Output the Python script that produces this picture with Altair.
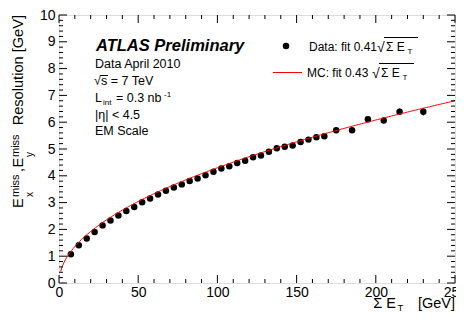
import altair as alt
import pandas as pd
import numpy as np

F = "Liberation Sans"

# ---- data ----
sumet = [7.5, 12.5, 17.5, 22.5, 27.5, 32.5, 37.5, 42.5, 47.5, 52.5, 57.5, 62.5,
         67.5, 72.5, 77.5, 82.5, 87.5, 92.5, 97.5, 102.5, 107.5, 112.5, 117.5,
         122.5, 127.5, 132.5, 137.5, 142.5, 147.5, 152.5, 157.5, 162.5, 167.5,
         175, 185, 195, 205, 215, 230]
resol = [1.07, 1.41, 1.66, 1.90, 2.15, 2.33, 2.52, 2.69, 2.84, 3.01, 3.15, 3.30,
         3.44, 3.56, 3.68, 3.81, 3.90, 4.02, 4.15, 4.27, 4.36, 4.48, 4.56,
         4.69, 4.76, 4.90, 5.03, 5.08, 5.13, 5.26, 5.35, 5.44, 5.48,
         5.70, 5.70, 6.11, 6.06, 6.39, 6.39]
resol_err = [0.02] * 30 + [0.03, 0.03, 0.04, 0.07, 0.08, 0.09, 0.10, 0.12, 0.14]
mc_fit_coef = 0.43

x_major = [0, 50, 100, 150, 200, 250]
x_minor = [v for v in range(0, 251, 10) if v % 50 != 0]
y_major = list(range(0, 11))
y_minor = [round(v * 0.2, 1) for v in range(0, 51) if v % 5 != 0]

W, H = 396, 268
xs = alt.Scale(domain=[0, 250], nice=False, zero=False)
ys = alt.Scale(domain=[0, 10], nice=False, zero=False)

df = pd.DataFrame({"x": sumet, "y": resol,
                   "lo": np.array(resol) - np.array(resol_err),
                   "hi": np.array(resol) + np.array(resol_err)})

base = alt.Chart(df)

xaxis = alt.Axis(values=x_major, ticks=False, domain=False, grid=False, title=None,
                 labelFont=F, labelFontSize=14, labelColor="black", labelPadding=2,
                 labelFlush=False, labelOverlap=False)
yaxis = alt.Axis(values=y_major, ticks=False, domain=False, grid=False, title=None,
                 labelFont=F, labelFontSize=14, labelColor="black", labelPadding=4,
                 labelFlush=False, labelOverlap=False)

pts = base.mark_point(filled=True, color="black", opacity=1, size=42, shape="circle").encode(
    x=alt.X("x:Q", scale=xs, axis=xaxis),
    y=alt.Y("y:Q", scale=ys, axis=yaxis),
)
err = base.mark_rule(color="black", strokeWidth=1).encode(
    x=alt.X("x:Q", scale=xs, axis=xaxis),
    y=alt.Y("lo:Q", scale=ys, axis=yaxis),
    y2="hi:Q",
)

fit = alt.Chart(alt.sequence(1, 250.5, 1, as_="x")).transform_calculate(
    y=f"{mc_fit_coef}*sqrt(datum.x)"
).mark_line(color="#ff0000", strokeWidth=1).encode(
    x=alt.X("x:Q", scale=xs, axis=xaxis),
    y=alt.Y("y:Q", scale=ys, axis=yaxis),
)

def tick_layer(vals, axis, length):
    d = pd.DataFrame({"v": vals})
    c = alt.Chart(d).mark_rule(color="black", strokeWidth=1)
    if axis == "x":
        return [c.encode(x=alt.X("v:Q", scale=xs, axis=xaxis),
                         y=alt.value(H), y2=alt.value(H - length)),
                c.encode(x=alt.X("v:Q", scale=xs, axis=xaxis),
                         y=alt.value(0), y2=alt.value(length))]
    return [c.encode(y=alt.Y("v:Q", scale=ys, axis=yaxis),
                     x=alt.value(0), x2=alt.value(length)),
            c.encode(y=alt.Y("v:Q", scale=ys, axis=yaxis),
                     x=alt.value(W), x2=alt.value(W - length))]

ticks = (tick_layer(x_major, "x", 8) + tick_layer(x_minor, "x", 4)
         + tick_layer(y_major, "y", 8) + tick_layer(y_minor, "y", 4))

one = alt.Data(values=[{"a": 1}])

def txt(s, x, y, size=12, align="left", angle=0, **kw):
    return alt.Chart(one).mark_text(text=s, font=F, fontSize=size, align=align,
                                    baseline="alphabetic", angle=angle, color="black",
                                    **kw).encode(x=alt.value(x), y=alt.value(y))

def hline(x1, x2, y, color="black", w=1):
    return alt.Chart(one).mark_rule(color=color, strokeWidth=w).encode(
        x=alt.value(x1), x2=alt.value(x2), y=alt.value(y))

ann = [
    txt("ATLAS Preliminary", 37, 36, 16.5, fontWeight="bold", fontStyle="italic"),
    txt("Data April 2010", 36, 53, 12.5),
    txt("√", 35, 70, 12.5),
    txt("s = 7 TeV", 42, 70, 12.5),
    hline(41, 49, 60.5),
    txt("L", 36, 87, 12.5),
    txt("int", 44, 90, 8),
    txt("= 0.3 nb", 57, 87, 12.5),
    txt("-1", 105, 81.5, 8),
    txt("|η| < 4.5", 36, 103.5, 12.5),
    txt("EM Scale", 36, 120, 12.5),
    # legend
    alt.Chart(one).mark_point(filled=True, color="black", opacity=1, size=42, shape="circle").encode(
        x=alt.value(227), y=alt.value(31)),
    txt("Data: fit 0.41", 250, 36, 12),
    txt("√", 318, 37, 14),
    hline(325, 359, 22.5),
    txt("Σ E", 327, 36, 12),
    txt("T", 348.5, 39, 8),
    hline(214, 243, 57.5, color="#ff0000"),
    txt("MC: fit 0.43", 248, 62, 12),
    txt("√", 313, 63, 14),
    hline(320, 355, 48.5),
    txt("Σ E", 322, 62, 12),
    txt("T", 343.5, 65, 8),
    # x title
    txt("Σ E", 337, 293, 14.5, align="right"),
    txt("T", 338.5, 295.5, 9.5),
    txt("[GeV]", 396, 293, 14.5, align="right"),
    # y title (rotated)
    txt("E", -36, 193, 14.6, angle=270),
    txt("x", -26, 182, 10, angle=270),
    txt("miss", -40, 182, 11, angle=270),
    txt(",", -36, 157, 14.6, angle=270),
    txt("E", -36, 152.5, 14.6, angle=270),
    txt("y", -26, 142, 10, angle=270),
    txt("miss", -40, 142, 11, angle=270),
    txt("Resolution [GeV]", -36, 0, 14.6, align="right", angle=270),
]

chart = alt.layer(pts, err, fit, *ticks, *ann).properties(
    width=W, height=H,
    padding={"left": 51, "top": 7, "right": 1, "bottom": 28},
    autosize=alt.AutoSizeParams(type="none"),
).configure_view(stroke="black", strokeWidth=1.2).configure(background="white")

chart.save("out.html", embed_options={"renderer": "svg", "actions": False})
